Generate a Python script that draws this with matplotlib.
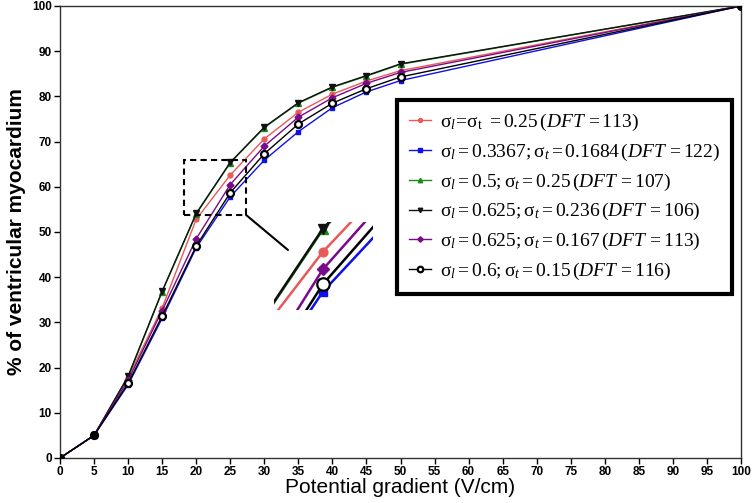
import matplotlib
matplotlib.use("Agg")
import matplotlib.pyplot as plt
from matplotlib.patches import Rectangle, ConnectionPatch

plt.rcParams['mathtext.fontset'] = 'custom'
plt.rcParams['mathtext.rm'] = 'Liberation Serif'
plt.rcParams['mathtext.it'] = 'Liberation Serif:italic'
plt.rcParams['mathtext.bf'] = 'Liberation Serif:bold'
plt.rcParams['font.family'] = ['Liberation Sans', 'DejaVu Sans']

x = [0, 5, 10, 15, 20, 25, 30, 35, 40, 45, 50, 100]
red    = [0, 5, 17.8, 33.2, 52.8, 62.6, 70.6, 76.5, 80.5, 83.4, 85.7, 100]
blue   = [0, 5, 16.2, 30.9, 46.5, 57.8, 65.9, 72.2, 77.5, 81.0, 83.5, 100]
green  = [0, 5, 17.9, 36.8, 54.0, 65.3, 73.1, 78.5, 82.0, 84.5, 87.1, 100]
black_tri = [0, 5, 18.1, 36.9, 54.1, 65.4, 73.2, 78.6, 82.1, 84.6, 87.2, 100]
purple = [0, 5, 17.2, 32.6, 48.5, 60.5, 69.0, 75.4, 79.7, 82.9, 85.3, 100]
black_circ = [0, 5, 16.5, 31.4, 46.9, 58.7, 67.3, 73.9, 78.5, 81.7, 84.3, 100]

sig_l = r'\mathrm{σ}_l'
sig_t = r'\mathrm{σ}_t'
label_bodies = [
    (sig_l + r'\!=\!\mathrm{σ}_{\rm t}\ =0.25', '113'),
    (sig_l + r'=0.3367;' + sig_t + r'=0.1684', '122'),
    (sig_l + r'=0.5;' + sig_t + r'=0.25', '107'),
    (sig_l + r'=0.625;' + sig_t + r'=0.236', '106'),
    (sig_l + r'=0.625;' + sig_t + r'=0.167', '113'),
    (sig_l + r'=0.6;' + sig_t + r'=0.15', '116'),
]
labels = ['$' + body + r'\,(DFT\,=' + dft + r')$' for body, dft in label_bodies]

series = [
    (red, dict(color='#e85a5a', marker='o', ms=3.5, mfc='#e85a5a', mec='#e85a5a')),
    (blue, dict(color='#1010e8', marker='s', ms=3.5, mfc='#1010e8', mec='#1010e8')),
    (green, dict(color='#1a8a1a', marker='^', ms=4, mfc='#1a8a1a', mec='#1a8a1a')),
    (black_tri, dict(color='#111111', marker='v', ms=4, mfc='#111111', mec='#111111')),
    (purple, dict(color='#7a0a8a', marker='D', ms=3.5, mfc='#7a0a8a', mec='#7a0a8a')),
    (black_circ, dict(color='#000000', marker='o', ms=5, mfc='white', mec='black', mew=1.6)),
]

fig = plt.figure(figsize=(7.54, 5.03), dpi=100)
ax = fig.add_axes([60/754, 45/503, 681/754, 452/503])

handles = []
for (vals, st), lab in zip(series, labels):
    h, = ax.plot(x, vals, lw=1.0, label=lab, **st)
    handles.append(h)
ax.plot([x[0], x[1], x[-1]], [red[0], red[1], red[-1]], ls='none', marker='o', ms=5, color='black', zorder=5)

ax.set_xlim(0, 100)
ax.set_ylim(0, 100)
ax.set_xticks(range(0, 101, 5))
ax.set_yticks(range(0, 101, 10))
ax.tick_params(direction='out', length=4, width=1, labelsize=8.5, pad=2)
for lab in ax.get_xticklabels() + ax.get_yticklabels():
    lab.set_fontweight('bold')
for s in ax.spines.values():
    s.set_color('#333333')
    s.set_linewidth(1)
ax.set_xlabel('Potential gradient (V/cm)', fontsize=15, labelpad=0)
ax.set_ylabel('% of ventricular myocardium', fontsize=15, fontweight='bold', labelpad=4)

# zoom box
rx0, rx1, ry0, ry1 = 18.2, 27.3, 53.8, 65.9
ax.add_patch(Rectangle((rx0, ry0), rx1 - rx0, ry1 - ry0, fill=False, ls=(0, (3, 2)), lw=1.5, ec='black', zorder=6))

# inset
axin = fig.add_axes([274/754, (503-310)/503, 99/754, 88/503])
for vals, st in series:
    st2 = dict(st)
    st2['ms'] = st2['ms'] * 1.8
    axin.plot(x, vals, lw=1.8, **st2)
axin.set_xlim(21.1, 29.0)
axin.set_ylim(55.6, 66.2)
axin.axis('off')

con = ConnectionPatch(xyA=(rx1, ry0), coordsA=ax.transData,
                      xyB=(288/754, (503-250)/503), coordsB=fig.transFigure,
                      color='black', lw=1.5)
fig.add_artist(con)

leg = ax.legend(handles=handles, loc='upper left',
                bbox_to_anchor=(397/754, (503-100)/503), bbox_transform=fig.transFigure,
                borderaxespad=0, fontsize=14, handlelength=1.15, handletextpad=0.45,
                labelspacing=0.45, borderpad=0.6, fancybox=False, markerscale=0.8)
leg.get_frame().set_edgecolor('black')
leg.get_frame().set_linewidth(3)
leg.get_frame().set_alpha(1)

fig.savefig('out.png', dpi=100)
